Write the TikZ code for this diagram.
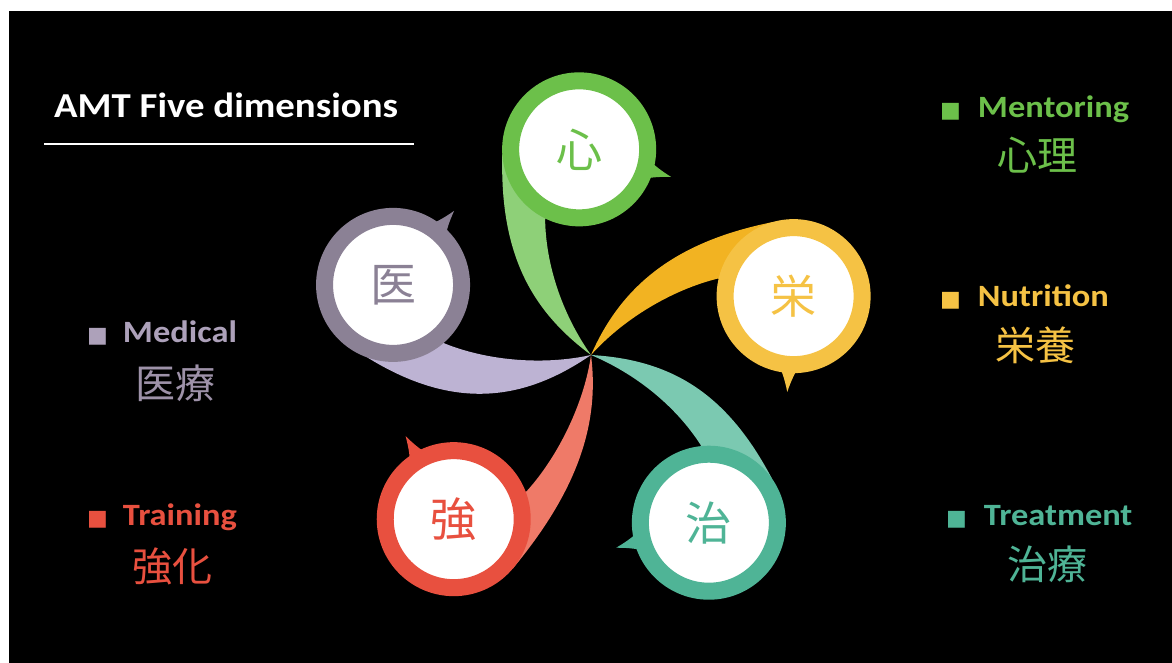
\documentclass[tikz,border=0pt]{standalone}
\usepackage{fontspec}
\setmainfont{Carlito}[FakeStretch=1.11]
\newfontfamily\cjk{Noto Sans CJK JP}
\newfontfamily\symfont{DejaVu Sans}
\usetikzlibrary{calc}
\definecolor{gR}{HTML}{6CC04A}
\definecolor{gT}{HTML}{8ED078}
\definecolor{yR}{HTML}{F5C244}
\definecolor{yT}{HTML}{F2B322}
\definecolor{tR}{HTML}{4FB496}
\definecolor{tT}{HTML}{7BC9B1}
\definecolor{rR}{HTML}{E8503F}
\definecolor{rT}{HTML}{EF7A68}
\definecolor{pR}{HTML}{8B8195}
\definecolor{pT}{HTML}{BDB3D3}
\definecolor{pL}{HTML}{ADA1BA}
\definecolor{pC}{HTML}{9E92A9}
\newcommand\sq{{\symfont\fontsize{22}{22}\selectfont ■}}
% #1 name, #2 angle, #3 distance, #4 ring colour, #5 tail colour, #6 character, #7 bulge
\newcommand\petal[7]{%
  \begin{scope}[shift={(C)}, rotate=#2]
    \fill[#5] (0,0) .. controls (50,60*#7) and (#3-96,85*#7) .. (#3,77)
      -- (#3,0) -- (#3-68,38) .. controls (#3-116,40) and (40,25) .. (0,0);
    \fill[#4] ($(#3,0)+(237:64)$) to[bend left=8] ($(#3,0)+(250:96)$)
      to[bend left=8] ($(#3,0)+(263:64)$) -- cycle;
    \node[ring=#4] (#1) at (#3,0) {#6};
  \end{scope}}
\begin{document}
\begin{tikzpicture}[x=1pt,y=1pt,
  ring/.style={circle, draw=#1, line width=17pt, fill=white, minimum size=137pt,
    inner sep=0pt, text=#1, font=\cjk\fontsize{46}{46}\selectfont},
  lbl/.style={text=#1, font=\bfseries\fontsize{31}{31}\selectfont, inner sep=0pt, anchor=base west},
  cjklbl/.style={text=#1, font=\cjk\fontsize{40}{40}\selectfont, inner sep=0pt}]
\useasboundingbox (0,0) rectangle (1172,663);
\fill[white] (0,0) rectangle (1172,663);
\fill[black] (9,0) rectangle (1172,652);
\coordinate (C) at (591,308);

\petal{xin}{93.3}{206}{gR}{gT}{心}{1}
\petal{ei}{16.2}{211}{yR}{yT}{栄}{1}
\petal{ji}{-54.9}{205}{tR}{tT}{治}{1.05}
\petal{kyo}{-129.9}{214}{rR}{rT}{強}{0.9}
\petal{i}{160.5}{210}{pR}{pT}{医}{1.15}

% title
\node[text=white, font=\bfseries\fontsize{35}{35}\selectfont, inner sep=0pt, anchor=base west]
  (title) at (54,545) {AMT Five dimensions};
\coordinate (ul1) at (44,519);
\coordinate (ul2) at (414,519);
\draw[white, line width=1.5pt] (ul1) -- (ul2);

% labels
\node[lbl=gR] (mentor) at (940,545) {\sq\hspace{17pt}Mentoring};
\node[cjklbl=gR] (mentorj) at (1037,508) {心理};
\node[lbl=yR] (nutri) at (940,356) {\sq\hspace{17pt}Nutrition};
\node[cjklbl=yR] (nutrij) at (1035,318) {栄養};
\node[lbl=tR] (treat) at (946,137) {\sq\hspace{17pt}Treatment};
\node[cjklbl=tR] (treatj) at (1047,99) {治療};
\node[lbl=pL] (medic) at (87,320) {\sq\hspace{15pt}Medical};
\node[cjklbl=pC] (medicj) at (175,280) {医療};
\node[lbl=rR] (train) at (87,137) {\sq\hspace{15pt}Training};
\node[cjklbl=rR] (trainj) at (172,97) {強化};
\end{tikzpicture}
\end{document}
